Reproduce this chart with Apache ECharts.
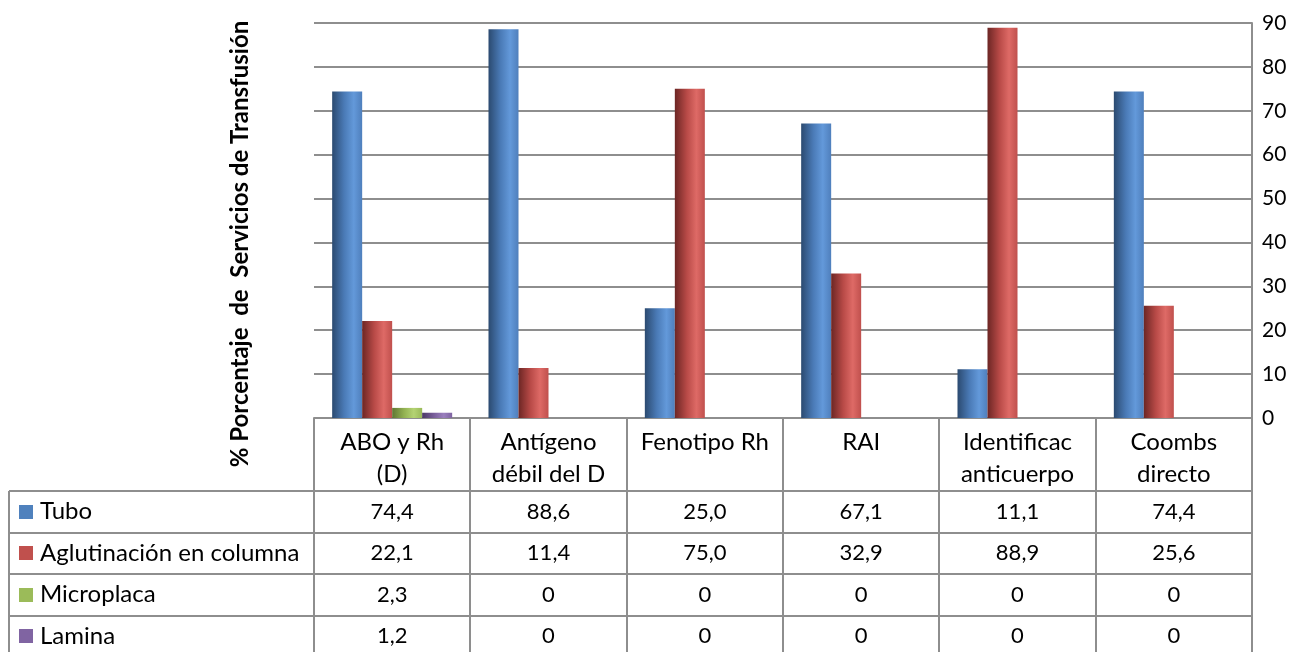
<!DOCTYPE html>
<html>
<head>
<meta charset="utf-8">
<script src="https://cdn.jsdelivr.net/npm/echarts@6/dist/echarts.min.js"></script>
<style>
  html, body { margin: 0; padding: 0; background: #ffffff; }
  #chart { width: 1307px; height: 652px; }
</style>
</head>
<body>
<div id="chart"></div>
<script>
// Categories (test types) and values per technique, in %
const categories = ['ABO y Rh\n(D)', 'Antígeno\ndébil del D', 'Fenotipo Rh', 'RAI', 'Identificac\nanticuerpo', 'Coombs\ndirecto'];
const seriesNames = ['Tubo', 'Aglutinación en columna', 'Microplaca', 'Lamina'];
const tubo = [74.4, 88.6, 25.0, 67.1, 11.1, 74.4];
const aglutinacion = [22.1, 11.4, 75.0, 32.9, 88.9, 25.6];
const microplaca = [2.3, 0, 0, 0, 0, 0];
const lamina = [1.2, 0, 0, 0, 0, 0];
const yMin = 0, yMax = 90, yStep = 10;
const yTitle = '% Porcentaje  de  Servicios de Transfusión';

const seriesData = [tubo, aglutinacion, microplaca, lamina];
const baseColors = ['#4f81bd', '#c0504d', '#9bbb59', '#8064a2'];
// cylinder-like shading: dark left edge, light highlight right of centre
const shades = [
  ['#2b4a70', '#4a7ab6', '#6399da', '#4f7fbc'],
  ['#6c2624', '#b84a47', '#de6a66', '#c0504d'],
  ['#5f7634', '#93b252', '#b4d373', '#99b958'],
  ['#4a3865', '#7a5f9b', '#9a7fbd', '#7f63a1']
];

const FONT = 'Lato, "Open Sans", sans-serif';
const TEXT_SIZE = 24, NUM_SIZE = 22;
const GRID = { left: 314, right: 55, top: 23, bottom: 234 };
const W = 1307, H = 652;
const plotRight = W - GRID.right;      // 1252
const plotBottom = H - GRID.bottom;    // 418
const colW = (plotRight - GRID.left) / categories.length;
const rowTop = 491, rowH = 41.5, tableLeft = 9;
const LINE = '#8e8e8e';

function fmt(v) {
  return v === 0 ? '0' : v.toFixed(1).replace('.', ',');
}

function grad(s) {
  return new echarts.graphic.LinearGradient(0, 0, 1, 0, [
    { offset: 0, color: s[0] },
    { offset: 0.4, color: s[1] },
    { offset: 0.72, color: s[2] },
    { offset: 1, color: s[3] }
  ]);
}

// Data table below the plot: grid lines, legend keys and value cells
const graphics = [];
function hline(x1, x2, y) {
  graphics.push({ type: 'line', silent: true, shape: { x1, y1: y, x2, y2: y }, style: { stroke: LINE, lineWidth: 2 } });
}
function vline(x, y1, y2) {
  graphics.push({ type: 'line', silent: true, shape: { x1: x, y1, x2: x, y2 }, style: { stroke: LINE, lineWidth: 2 } });
}
for (let k = 0; k <= categories.length; k++) {
  vline(Math.round(GRID.left + k * colW), plotBottom, H);
}
vline(tableLeft, rowTop, H);
for (let r = 0; r < seriesNames.length; r++) {
  const y = Math.round(rowTop + r * rowH);
  hline(tableLeft, plotRight, y);
  const cy = rowTop + r * rowH + rowH / 2;
  graphics.push({ type: 'rect', silent: true, shape: { x: 19, y: Math.round(cy - 7), width: 14, height: 14 }, style: { fill: baseColors[r] } });
  graphics.push({ type: 'text', silent: true, x: 40, y: cy, style: { text: seriesNames[r], font: TEXT_SIZE + 'px ' + FONT, fill: '#000', verticalAlign: 'middle', align: 'left' } });
  seriesData[r].forEach((v, i) => {
    graphics.push({ type: 'text', silent: true, x: GRID.left + (i + 0.5) * colW, y: cy, style: { text: fmt(v), font: NUM_SIZE + 'px ' + FONT, fill: '#000', verticalAlign: 'middle', align: 'center' } });
  });
}
// Axis title on the left
graphics.push({ type: 'text', silent: true, x: 240, y: 244, rotation: Math.PI / 2, style: { text: yTitle, font: 'bold 24px ' + FONT, fill: '#000', align: 'center', verticalAlign: 'middle' } });

const chart = echarts.init(document.getElementById('chart'), null, { renderer: 'canvas' });
chart.setOption({
  animation: false,
  backgroundColor: '#ffffff',
  grid: { left: GRID.left, right: GRID.right, top: GRID.top, bottom: GRID.bottom, containLabel: false },
  xAxis: {
    type: 'category',
    data: categories,
    axisLine: { show: true, lineStyle: { color: LINE, width: 2 } },
    axisTick: { show: false },
    axisLabel: { color: '#000', fontFamily: FONT, fontSize: TEXT_SIZE, lineHeight: 32, margin: 8, verticalAlign: 'top', interval: 0 }
  },
  yAxis: {
    type: 'value',
    position: 'right',
    min: yMin, max: yMax, interval: yStep,
    axisLine: { show: true, lineStyle: { color: LINE, width: 2 } },
    axisTick: { show: false },
    axisLabel: { color: '#000', fontFamily: FONT, fontSize: 21, margin: 10 },
    splitLine: { show: true, lineStyle: { color: LINE, width: 2 } }
  },
  series: seriesNames.map((name, i) => ({
    name,
    type: 'bar',
    data: seriesData[i],
    barWidth: 30,
    barGap: '0%',
    itemStyle: { color: grad(shades[i]) }
  })),
  graphic: graphics
});
</script>
</body>
</html>
